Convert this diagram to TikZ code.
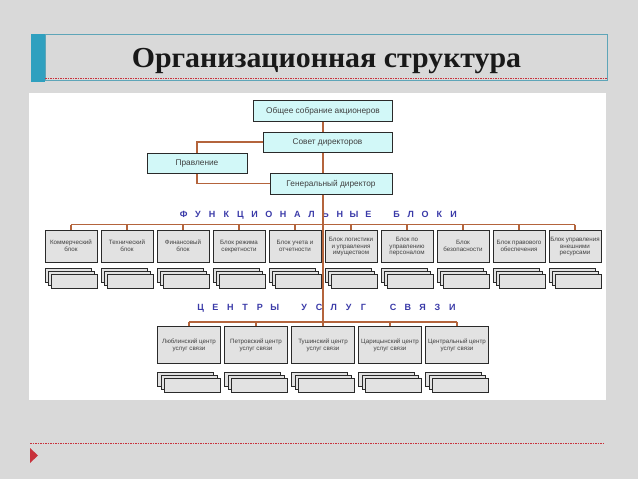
\documentclass[tikz,border=0pt]{standalone}
\usepackage{fontspec}
\setmainfont{Liberation Serif}
\newfontfamily\boxfont{Liberation Sans}
\definecolor{bg}{HTML}{D9D9D9}
\definecolor{tealbar}{HTML}{2FA0BF}
\definecolor{tealline}{HTML}{5EA5B8}
\definecolor{dashred}{HTML}{C8323C}
\definecolor{conn}{HTML}{B4643C}
\definecolor{cyanfill}{HTML}{D2F8F8}
\definecolor{greyfill}{HTML}{E2E2E2}
\definecolor{boxline}{HTML}{2A2A2A}
\definecolor{labblue}{HTML}{3A3AA8}
\definecolor{txt}{HTML}{404040}
\newcommand\ltrA[1]{\makebox[14.2pt]{#1}}
\newcommand\ltrB[1]{\makebox[14.8pt]{#1}}
\begin{document}
\begin{tikzpicture}[x=1pt,y=-1pt,
  topbox/.style={draw=boxline, line width=1pt, fill=cyanfill, inner sep=0pt,
    text depth=0pt, font=\boxfont\fontsize{8.3}{9}\selectfont, text=txt},
  fbox/.style={draw=boxline, line width=1pt, fill=greyfill, minimum width=52pt,
    minimum height=32pt, inner sep=0pt, align=center, text depth=0pt,
    font=\boxfont\fontsize{6.2}{6.8}\selectfont, text=txt},
  cbox/.style={fbox, minimum width=63pt, minimum height=37pt},
  wire/.style={draw=conn, line width=1.3pt},
  stackrect/.style={draw=boxline, line width=0.8pt, fill=greyfill},
  dashline/.style={draw=dashred, line width=0.6pt, dash pattern=on 1.5pt off 1pt},
  spaced/.style={font=\boxfont\bfseries\fontsize{9}{10}\selectfont, text=labblue,
    inner sep=0pt, anchor=west},
  titlefont/.style={font=\bfseries\fontsize{29}{32}\selectfont, text=black!90,
    inner sep=0pt, anchor=base}
]
\useasboundingbox (0,0) rectangle (638,479);
\fill[bg] (0,0) rectangle (638,479);
% title frame
\fill[tealbar] (31,34) rectangle (45,82);
\draw[tealline, line width=0.7pt] (45,34) rectangle (607,80);
\draw[dashline] (45,78) -- (607,78);
\node[titlefont] (title) at (326.5,67) {\scalebox{1.03}[1]{Организационная структура}};
% panel
\fill[white] (29,93) rectangle (606,400);
% bottom
\draw[dashline] (30,443) -- (605,443);
\fill[dashred] (30,448) -- (38,455.5) -- (30,463) -- cycle;

% top boxes
\node[topbox, minimum width=139pt, minimum height=21pt] (gsa) at (323,110.5) {Общее собрание акционеров};
\node[topbox, minimum width=129pt, minimum height=20pt] (sd) at (327.5,142) {Совет директоров};
\node[topbox, minimum width=100pt, minimum height=20pt] (pr) at (197,163) {Правление};
\node[topbox, minimum width=122pt, minimum height=21pt] (gd) at (331,183.5) {Генеральный директор};

% functional blocks
\node[fbox] (f1) at (71,246) {Коммерческий\\блок};
\node[fbox] (f2) at (127,246) {Технический\\блок};
\node[fbox] (f3) at (183,246) {Финансовый\\блок};
\node[fbox] (f4) at (239,246) {Блок режима\\секретности};
\node[fbox] (f5) at (295,246) {Блок учета и\\отчетности};
\node[fbox] (f6) at (351,246) {Блок логистики\\и управления\\имуществом};
\node[fbox] (f7) at (407,246) {Блок по\\управлению\\персоналом};
\node[fbox] (f8) at (463,246) {Блок\\безопасности};
\node[fbox] (f9) at (519,246) {Блок правового\\обеспечения};
\node[fbox] (f10) at (575,246) {Блок управления\\внешними\\ресурсами};

\foreach \k [evaluate=\k as \xl using 45+56*\k] in {0,...,9} {
  \draw[stackrect] (\xl,268) rectangle ++(46,14);
  \draw[stackrect] (\xl+3,271) rectangle ++(46,14);
  \draw[stackrect] (\xl+6,274) rectangle ++(46,14);
}

% service centres
\node[cbox] (c1) at (189,344.5) {Люблинский центр\\услуг связи};
\node[cbox] (c2) at (256,344.5) {Петровский центр\\услуг связи};
\node[cbox] (c3) at (323,344.5) {Тушинский центр\\услуг связи};
\node[cbox] (c4) at (390,344.5) {Царицынский центр\\услуг связи};
\node[cbox] (c5) at (457,344.5) {Центральный центр\\услуг связи};

\foreach \k [evaluate=\k as \xl using 157.5+67*\k] in {0,...,4} {
  \draw[stackrect] (\xl,372) rectangle ++(56,14);
  \draw[stackrect] (\xl+3.5,375) rectangle ++(56,14);
  \draw[stackrect] (\xl+7,378) rectangle ++(56,14);
}

% labels
\node[spaced] (flab) at (176.4,215) {\ltrA{Ф}\ltrA{У}\ltrA{Н}\ltrA{К}\ltrA{Ц}\ltrA{И}\ltrA{О}\ltrA{Н}\ltrA{А}\ltrA{Л}\ltrA{Ь}\ltrA{Н}\ltrA{Ы}\ltrA{Е}\ltrA{ }\ltrA{Б}\ltrA{Л}\ltrA{О}\ltrA{К}\ltrA{И}};
\node[spaced] (clab) at (193.1,308) {\ltrB{Ц}\ltrB{Е}\ltrB{Н}\ltrB{Т}\ltrB{Р}\ltrB{Ы}\ltrB{ }\ltrB{У}\ltrB{С}\ltrB{Л}\ltrB{У}\ltrB{Г}\ltrB{ }\ltrB{С}\ltrB{В}\ltrB{Я}\ltrB{З}\ltrB{И}};

% connectors
\draw[wire] (gsa.south) -- (gsa.south |- sd.north);
\draw[wire] (gsa.south |- sd.south) -- (gsa.south |- gd.north);
\draw[wire] (gsa.south |- gd.south) -- (c3.north);
\draw[wire] (sd.west) -| (pr.north);
\draw[wire] (pr.south) |- (gd.west);
\coordinate (busf) at (323,224.5);
\draw[wire] (f1.north |- busf) -- (f10.north |- busf);
\foreach \i in {1,...,10} \draw[wire] (f\i.north |- busf) -- (f\i.north);
\coordinate (busc) at (323,322);
\draw[wire] (c1.north |- busc) -- (c5.north |- busc);
\foreach \i in {1,2,4,5} \draw[wire] (c\i.north |- busc) -- (c\i.north);
\end{tikzpicture}
\end{document}
